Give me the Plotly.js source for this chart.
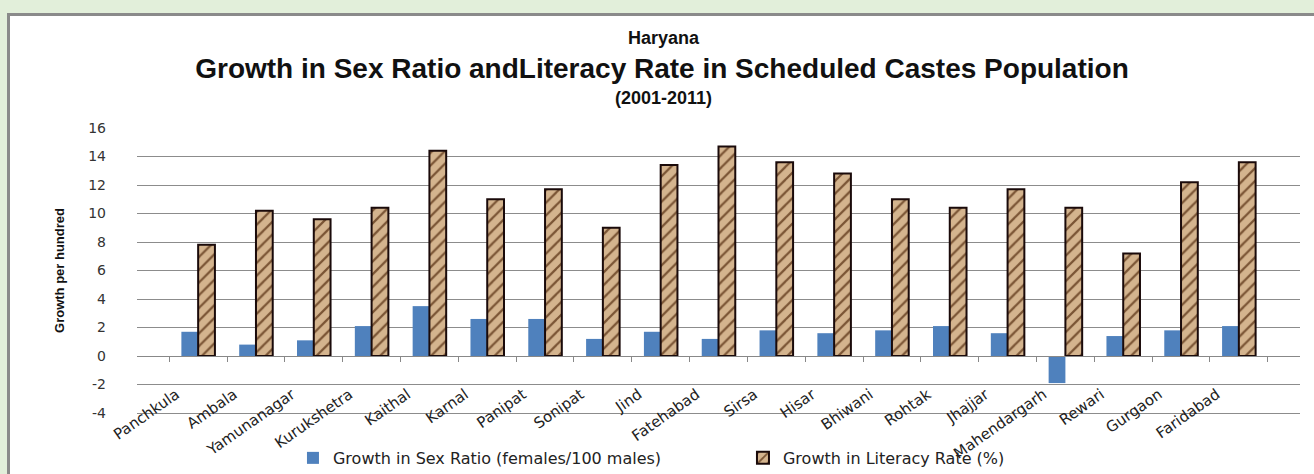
<!DOCTYPE html>
<html>
<head>
<meta charset="utf-8">
<script src="https://cdn.plot.ly/plotly-3.0.1.min.js"></script>
<style>
  html, body { margin: 0; padding: 0; background: #e2efda; width: 1314px; height: 474px; overflow: hidden; }
  #frame { position: absolute; left: 7px; top: 13px; width: 1307px; height: 461px; background: #ffffff;
           border-top: 3px solid #8a8a8a; border-left: 3px solid #8a8a8a; box-sizing: border-box; }
  #chart { width: 1304px; height: 458px; }
</style>
</head>
<body>
<div id="frame"><div id="chart"></div></div>
<script>
const districts = ["Panchkula","Ambala","Yamunanagar","Kurukshetra","Kaithal","Karnal","Panipat","Sonipat","Jind","Fatehabad","Sirsa","Hisar","Bhiwani","Rohtak","Jhajjar","Mahendargarh","Rewari","Gurgaon","Faridabad"];
const sexRatioGrowth = [1.7, 0.8, 1.1, 2.1, 3.5, 2.6, 2.6, 1.2, 1.7, 1.2, 1.8, 1.6, 1.8, 2.1, 1.6, -1.9, 1.4, 1.8, 2.1];
const literacyGrowth = [7.8, 10.2, 9.6, 10.4, 14.4, 11.0, 11.7, 9.0, 13.4, 14.7, 13.6, 12.8, 11.0, 10.4, 11.7, 10.4, 7.2, 12.2, 13.6];
const yTicks = [-4, -2, 0, 2, 4, 6, 8, 10, 12, 14, 16];

const traces = [
  {
    type: "bar", name: "Growth in Sex Ratio (females/100 males)",
    x: districts, y: sexRatioGrowth,
    marker: { color: "#4f81bd" },
    hoverinfo: "x+y"
  },
  {
    type: "bar", name: "Growth in Literacy Rate (%)",
    x: districts, y: literacyGrowth,
    marker: {
      color: "#c9a47c",
      line: { color: "#1a0a0a", width: 2 },
      pattern: { shape: "/", fgcolor: "#7a5434", bgcolor: "#d4b48e", size: 9, solidity: 0.25 }
    },
    hoverinfo: "x+y"
  },
  {
    type: "scatter", mode: "markers", x: districts, y: districts.map(() => 0),
    xaxis: "x2", yaxis: "y", showlegend: false, hoverinfo: "skip",
    marker: { opacity: 0, size: 1 }
  }
];

const titleFont = "Liberation Sans, Arial, sans-serif";

const layout = {
  width: 1304, height: 458,
  margin: { l: 127, r: 14, t: 112, b: 61, autoexpand: false },
  paper_bgcolor: "#ffffff", plot_bgcolor: "#ffffff",
  barmode: "group", bargap: 0.42, bargroupgap: 0,
  title: {
    text: "<b>Growth in Sex Ratio andLiteracy Rate in Scheduled Castes Population</b>",
    font: { family: titleFont, size: 28, color: "#111" },
    x: 0.5, xref: "container", y: 0.886, yref: "container", yanchor: "middle"
  },
  annotations: [
    { text: "<b>Haryana</b>", xref: "paper", yref: "paper", x: 0.453, y: 1.316, yanchor: "middle",
      showarrow: false, font: { family: titleFont, size: 18, color: "#111" } },
    { text: "<b>(2001-2011)</b>", xref: "paper", yref: "paper", x: 0.453, y: 1.105, yanchor: "middle",
      showarrow: false, font: { family: titleFont, size: 18, color: "#111" } }
  ],
  xaxis: {
    type: "category", tickangle: -35, ticks: "", showgrid: false, zeroline: false,
    showline: true, linecolor: "#8c8c8c", linewidth: 1,
    ticklabelstandoff: -34, ticklabelshift: -22,
    tickfont: { family: "DejaVu Sans, sans-serif", size: 15, color: "#222" },
    automargin: false
  },
  xaxis2: {
    type: "category", overlaying: "x", matches: "x", anchor: "free", position: 0.2,
    showticklabels: false, ticks: "outside", tickson: "boundaries", ticklen: 5, tickcolor: "#888",
    showline: true, linecolor: "#888", linewidth: 1, showgrid: false, zeroline: false
  },
  yaxis: {
    range: [-4, 16], tickvals: yTicks, ticktext: yTicks.map(String),
    showgrid: true, gridcolor: "#8c8c8c", gridwidth: 1, zeroline: false, showline: false,
    ticks: "", ticklabelstandoff: 30,
    tickfont: { family: "DejaVu Sans, sans-serif", size: 14, color: "#333" },
    title: { text: "<b>Growth per hundred</b>", standoff: 20,
             font: { family: titleFont, size: 13, color: "#111" } },
    automargin: false
  },
  legend: {
    orientation: "h", xref: "container", yref: "container",
    x: 0.217, xanchor: "left", y: 0.035, yanchor: "middle",
    bgcolor: "rgba(0,0,0,0)",
    font: { family: "DejaVu Sans, sans-serif", size: 16, color: "#222" },
    traceorder: "normal", entrywidth: 405, entrywidthmode: "pixels", itemwidth: 30
  },
  showlegend: true
};

Plotly.newPlot("chart", traces, layout, { displayModeBar: false, staticPlot: true });
</script>
</body>
</html>
